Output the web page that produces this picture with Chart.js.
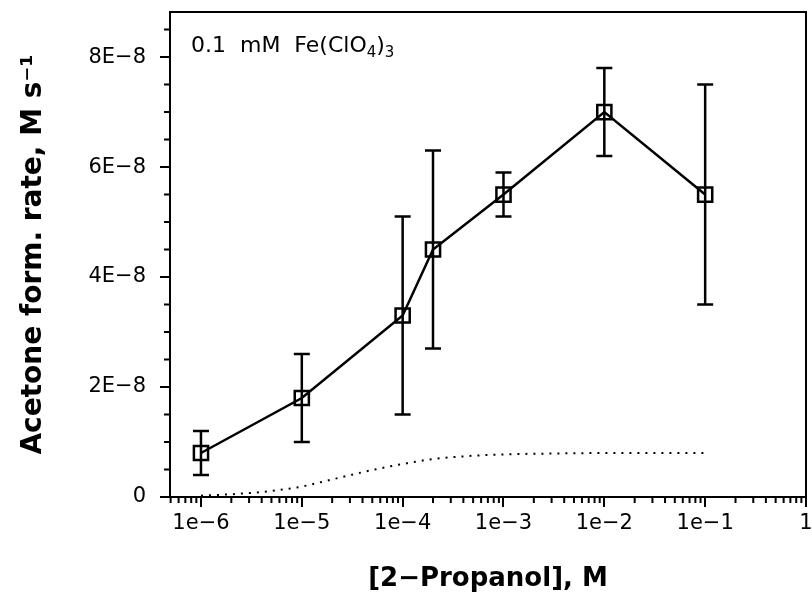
<!DOCTYPE html>
<html>
<head>
<meta charset="utf-8">
<script src="https://cdn.jsdelivr.net/npm/chart.js@4.4.1/dist/chart.umd.min.js"></script>
<style>
  html, body { margin: 0; padding: 0; background: #fff; }
  #chart { display: block; }
</style>
</head>
<body>
<canvas id="chart" width="812" height="603"></canvas>
<script>
// measured points (open squares) with error bar limits
const propanol = [1e-6, 1e-5, 1e-4, 2e-4, 1e-3, 1e-2, 1e-1];
const rate = [0.8e-8, 1.8e-8, 3.3e-8, 4.5e-8, 5.5e-8, 7.0e-8, 5.5e-8];
const rateLow = [0.4e-8, 1.0e-8, 1.5e-8, 2.7e-8, 5.1e-8, 6.2e-8, 3.5e-8];
const rateHigh = [1.2e-8, 2.6e-8, 5.1e-8, 6.3e-8, 5.9e-8, 7.8e-8, 7.5e-8];

// dotted curve
const curveX = [1e-6, 2e-6, 5e-6, 1e-5, 2e-5, 5e-5, 1e-4, 2e-4, 5e-4, 1e-3, 3e-3, 1e-2, 3e-2, 1e-1];
const curveY = [0.25e-9, 0.5e-9, 1.1e-9, 1.9e-9, 3.2e-9, 4.9e-9, 6.0e-9, 6.9e-9, 7.5e-9, 7.75e-9, 7.9e-9, 8.0e-9, 8.0e-9, 8.0e-9];

// axes
const xTicks = [1e-6, 1e-5, 1e-4, 1e-3, 1e-2, 1e-1, 1];
const xTickLabels = ['1e\u22126', '1e\u22125', '1e\u22124', '1e\u22123', '1e\u22122', '1e\u22121', '1'];
const yTicks = [0, 2e-8, 4e-8, 6e-8, 8e-8];
const yTickLabels = ['0', '2E\u22128', '4E\u22128', '6E\u22128', '8E\u22128'];

const FONT = 'DejaVu Sans';

// error bars, minor ticks, box and the note
const extras = {
  id: 'extras',
  afterDatasetsDraw(chart) {
    const { ctx, chartArea: a, scales: { x, y } } = chart;
    ctx.save();
    ctx.strokeStyle = '#000';
    ctx.lineWidth = 2.5;

    ctx.beginPath();
    propanol.forEach((p, i) => {
      const px = x.getPixelForValue(p);
      const lo = y.getPixelForValue(rateLow[i]);
      const hi = y.getPixelForValue(rateHigh[i]);
      ctx.moveTo(px, lo); ctx.lineTo(px, hi);
      ctx.moveTo(px - 8, lo); ctx.lineTo(px + 8, lo);
      ctx.moveTo(px - 8, hi); ctx.lineTo(px + 8, hi);
    });
    ctx.stroke();

    // minor ticks
    ctx.lineWidth = 2;
    ctx.beginPath();
    for (let e = -7; e < 0; e++) {
      for (let m = 2; m <= 9; m++) {
        const v = m * Math.pow(10, e);
        if (v < x.min || v > x.max) continue;
        const px = x.getPixelForValue(v);
        ctx.moveTo(px, a.bottom); ctx.lineTo(px, a.bottom + 6);
      }
    }
    for (let v = 0.5e-8; v < y.max; v += 0.5e-8) {
      if (Math.abs(v / 2e-8 - Math.round(v / 2e-8)) < 1e-6) continue;
      const py = y.getPixelForValue(v);
      ctx.moveTo(a.left - 6, py); ctx.lineTo(a.left, py);
    }
    ctx.stroke();

    // top and right frame
    ctx.beginPath();
    ctx.moveTo(a.left, a.top);
    ctx.lineTo(a.right, a.top);
    ctx.lineTo(a.right, a.bottom);
    ctx.stroke();

    // note with subscripts
    ctx.fillStyle = '#000';
    ctx.textBaseline = 'alphabetic';
    let tx = a.left + 21;
    const ty = a.top + 40;
    const parts = [['0.1  mM  Fe(ClO', 22, 0], ['4', 15, 5], [')', 22, 0], ['3', 15, 5]];
    parts.forEach(([t, size, dy]) => {
      ctx.font = size + 'px "' + FONT + '"';
      ctx.fillText(t, tx, ty + dy);
      tx += ctx.measureText(t).width;
    });
    ctx.restore();
  }
};

new Chart(document.getElementById('chart'), {
  type: 'line',
  data: {
    datasets: [
      {
        data: propanol.map((p, i) => ({ x: p, y: rate[i] })),
        borderColor: '#000',
        borderWidth: 2.5,
        pointStyle: 'rect',
        pointRadius: 10,
        pointBorderWidth: 2.5,
        pointBorderColor: '#000',
        pointBackgroundColor: 'rgba(0,0,0,0)',
        tension: 0,
      },
      {
        data: curveX.map((c, i) => ({ x: c, y: curveY[i] })),
        borderColor: '#000',
        borderWidth: 2,
        borderDash: [2, 6],
        pointRadius: 0,
        cubicInterpolationMode: 'monotone',
      },
    ],
  },
  options: {
    responsive: false,
    animation: false,
    devicePixelRatio: 1,
    layout: { autoPadding: false, padding: { top: 12, right: 6, left: 0, bottom: 0 } },
    plugins: { legend: { display: false }, tooltip: { enabled: false } },
    scales: {
      x: {
        type: 'logarithmic',
        min: 4.93e-7,
        max: 1,
        afterBuildTicks: s => { s.ticks = xTicks.map(v => ({ value: v })); },
        afterFit: s => { s.height = 106; s.paddingLeft = 0; s.paddingRight = 0; },
        ticks: {
          callback: (v, i) => xTickLabels[i],
          font: { family: FONT, size: 21 },
          color: '#000',
          padding: 4,
          maxRotation: 0,
          autoSkip: false,
        },
        grid: { drawOnChartArea: false, tickLength: 10, color: '#000', lineWidth: 2 },
        border: { color: '#000', width: 2 },
        title: {
          display: true,
          text: '[2\u2212Propanol], M',
          color: '#000',
          font: { family: FONT, size: 26, weight: 'bold' },
          padding: { top: 0, bottom: 8 },
        },
      },
      y: {
        min: 0,
        max: 8.82e-8,
        afterBuildTicks: s => { s.ticks = yTicks.map(v => ({ value: v })); },
        afterFit: s => { s.width = 170; s.paddingTop = 0; s.paddingBottom = 0; },
        ticks: {
          callback: (v, i) => yTickLabels[i],
          font: { family: FONT, size: 21 },
          color: '#000',
          padding: 14,
        },
        grid: { drawOnChartArea: false, tickLength: 10, color: '#000', lineWidth: 2 },
        border: { color: '#000', width: 2 },
        title: {
          display: true,
          text: 'Acetone form. rate, M s\u207B\u00B9',
          color: '#000',
          font: { family: FONT, size: 28, weight: 'bold' },
          padding: { top: 17, bottom: 0 },
        },
      },
    },
  },
  plugins: [extras],
});
</script>
</body>
</html>
